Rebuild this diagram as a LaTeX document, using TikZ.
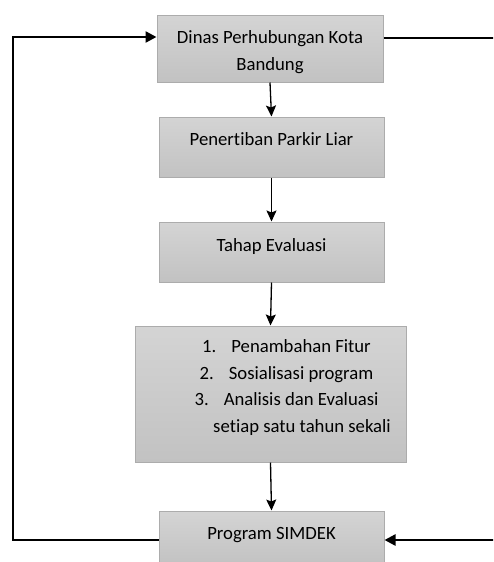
\documentclass[tikz,border=0pt]{standalone}
\usepackage{fontspec}
\setmainfont{Carlito}[Ligatures=NoCommon]
\usetikzlibrary{arrows.meta}
\definecolor{boxtop}{RGB}{212,212,212}
\definecolor{boxbot}{RGB}{194,194,194}
\definecolor{boxline}{RGB}{172,172,172}
\tikzset{
  stage/.style={
    rectangle, draw=boxline, line width=1pt,
    top color=boxtop, bottom color=boxbot,
    align=center, inner sep=0pt,
    font=\fontsize{18.7}{26.7}\selectfont
  },
  arr/.style  = {-{Stealth[length=11pt, width=10pt, inset=2pt]}, line width=1.3pt},
  back/.style = {line width=2.4pt},
  backarr/.style = {back, -{Triangle[length=11pt, width=11pt]}},
}

\begin{document}
\begin{tikzpicture}[x=1pt, y=-1pt]
\clip (0,0) rectangle (493,562);

%% ── Stages (x=271, top to bottom) ──────────────────────────────────────────
\node[stage, minimum width=226pt, minimum height=67pt,
      text height=47pt, text depth=4pt] (dishub) at (270, 48.5)
      {Dinas Perhubungan Kota\\Bandung};
\node[stage, minimum width=225pt, minimum height=60pt,
      text height=13pt, text depth=17pt] (tertib) at (271.5, 147)
      {Penertiban Parkir Liar};
\node[stage, minimum width=225pt, minimum height=60pt,
      text height=13pt, text depth=14pt] (evaluasi) at (271.5, 252)
      {Tahap Evaluasi};
\node[stage, minimum width=271pt, minimum height=136pt,
      text height=82pt, text depth=5pt] (rencana) at (270.5, 394)
      {\hspace*{32pt}1.\hspace{15pt}Penambahan Fitur\\
       \hspace*{32pt}2.\hspace{15pt}Sosialisasi program\\
       \hspace*{32pt}3.\hspace{15pt}Analisis dan Evaluasi\\
       \hspace*{63pt}setiap satu tahun sekali};
\node[stage, minimum width=225pt, minimum height=54pt,
      text height=13pt, text depth=11pt] (simdek) at (271.5, 538)
      {Program SIMDEK};

%% ── Stage → next stage (straight down) ─────────────────────────────────────
\draw[arr] (dishub.south)   -- (tertib.north);
\draw[arr] (tertib.south)   -- (evaluasi.north);
\draw[arr] (evaluasi.south) -- (rencana.north);
\draw[arr] (rencana.south)  -- (simdek.north);

%% ── Return paths (left and right side) ─────────────────────────────────────
\coordinate (ltop) at (13, 37);
\coordinate (lbot) at (13, 540);
\coordinate (rtop) at (500, 38);
\coordinate (rbot) at (500, 540);

\draw[backarr] (simdek.west |- lbot) -- (lbot) -- (ltop) -- (dishub.west |- ltop);
\draw[backarr] (dishub.east |- rtop) -- (rtop) -- (rbot) -- (simdek.east |- rbot);

\end{tikzpicture}
\end{document}
